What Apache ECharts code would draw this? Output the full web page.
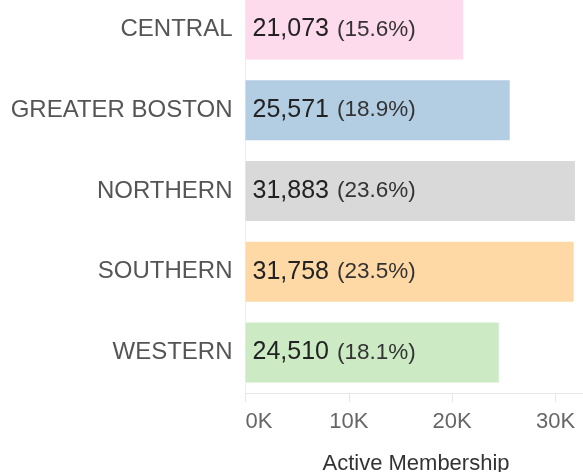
<!DOCTYPE html>
<html>
<head>
<meta charset="utf-8">
<script src="https://cdn.jsdelivr.net/npm/echarts@6/dist/echarts.min.js"></script>
<style>
  html, body { margin: 0; padding: 0; background: #fff; }
  #chart { width: 583px; height: 472px; }
</style>
</head>
<body>
<div id="chart"></div>
<script>
// regions, top to bottom
var regions = ['CENTRAL', 'GREATER BOSTON', 'NORTHERN', 'SOUTHERN', 'WESTERN'];
// active members per region
var members = [21073, 25571, 31883, 31758, 24510];
// share shown in the label
var shares = ['15.6%', '18.9%', '23.6%', '23.5%', '18.1%'];
var barColors = ['#fddaec', '#b3cde3', '#d9d9d9', '#fed9a6', '#ccebc5'];

var chart = echarts.init(document.getElementById('chart'));

var option = {
    animation: false,
    textStyle: { fontFamily: 'Liberation Sans, Arial, sans-serif' },
    grid: { left: 245.5, top: -11, height: 404, width: 341, outerBoundsMode: 'none' },
    xAxis: {
        type: 'value',
        min: 0,
        max: 33000,
        interval: 10000,
        splitLine: { show: false },
        axisLine: { show: true, lineStyle: { color: '#e6e6e6' } },
        axisTick: { show: true, length: 9, lineStyle: { color: '#e6e6e6' } },
        axisLabel: {
            color: '#666',
            fontSize: 22,
            margin: 18,
            showMaxLabel: false,
            alignMinLabel: 'left',
            formatter: function (v) { return (v / 1000) + 'K'; }
        },
        name: 'Active Membership',
        nameLocation: 'middle',
        nameGap: 60,
        nameTextStyle: { color: '#333', fontSize: 22 }
    },
    yAxis: {
        type: 'category',
        inverse: true,
        data: regions,
        axisLine: { show: true, lineStyle: { color: '#eeeeee' } },
        axisTick: { show: false },
        axisLabel: { color: '#555', fontSize: 24, margin: 13 }
    },
    series: [{
        type: 'bar',
        barWidth: 60,
        data: members.map(function (v, i) {
            return { value: v, itemStyle: { color: barColors[i] } };
        }),
        label: {
            show: true,
            position: 'insideLeft',
            distance: 7,
            formatter: function (p) {
                return '{n|' + p.value.toLocaleString('en-US') + '}{p|(' + shares[p.dataIndex] + ')}';
            },
            rich: {
                n: { fontSize: 25, color: '#222' },
                p: { fontSize: 22.5, color: '#333', padding: [0, 0, 0, 8] }
            }
        }
    }]
};

chart.setOption(option);
</script>
</body>
</html>
